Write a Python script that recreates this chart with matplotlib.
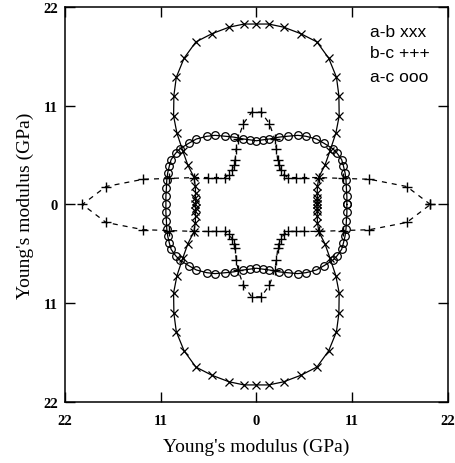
import numpy as np
import matplotlib
matplotlib.use("Agg")
import matplotlib.pyplot as plt

# Young's modulus (GPa) vs direction, first quadrant only (curves are symmetric)
ab_ang = [0, 3, 6, 10, 16, 23, 29, 35, 41, 46, 52, 57, 63, 69, 75, 81, 86, 90]
ab_E = [7.0, 7.0, 7.05, 7.1, 7.3, 7.8, 9.0, 10.3, 12.1, 13.7, 15.4, 16.9,
        18.3, 19.4, 19.7, 20.0, 20.15, 20.1]

bc_ang = [0, 6.6, 12.2, 16.2, 22.6, 28.6, 33.1, 39.8, 45.9, 53.6, 59.4,
          63.4, 69.6, 74.0, 80.5, 87.0]
bc_E = [20.0, 17.4, 13.3, 10.4, 7.8, 6.27, 5.49, 4.69, 4.6, 4.72, 5.11,
        5.48, 6.61, 7.6, 9.12, 10.3]

ac_ang = [0, 4.9, 9.9, 14.7, 18.9, 23.3, 27.0, 31.5, 35.2, 41.1, 46.6,
          53.1, 58.3, 64.7, 70.9, 78.4, 84.4, 90]
ac_E = [10.4, 10.44, 10.5, 10.65, 10.78, 10.89, 11.0, 10.9, 10.76, 10.35,
        10.04, 9.5, 9.05, 8.41, 7.94, 7.45, 7.23, 7.1]

labels = ["a-b xxx", "b-c +++", "a-c ooo"]
ticks = [-22, -11, 0, 11, 22]
tick_labels = ["22", "11", "0", "11", "22"]


def full_curve(ang, E):
    # mirror the first quadrant into the other three and close the loop
    ang = np.asarray(ang, dtype=float)
    E = np.asarray(E, dtype=float)
    a = np.concatenate([ang, 180 - ang[::-1], 180 + ang, 360 - ang[::-1]])
    e = np.concatenate([E, E[::-1], E, E[::-1]])
    keep = np.r_[True, np.abs(np.diff(a)) > 1e-9]
    a, e = a[keep], e[keep]
    if abs(a[-1] - 360 - a[0]) < 1e-9:
        a, e = a[:-1], e[:-1]
    t = np.radians(a)
    x, y = e * np.cos(t), e * np.sin(t)
    return np.r_[x, x[0]], np.r_[y, y[0]]


fig = plt.figure(figsize=(4.56, 4.64), dpi=100)
ax = fig.add_axes([0.1425, 0.1315, 0.8395, 0.8513])

x, y = full_curve(ab_ang, ab_E)
ax.plot(x, y, "-", color="black", lw=0.9, marker="x", ms=6, mew=0.9)
x, y = full_curve(bc_ang, bc_E)
ax.plot(x, y, "--", color="black", lw=0.9, dashes=(4, 4), marker="+", ms=7, mew=1.0)
x, y = full_curve(ac_ang, ac_E)
ax.plot(x, y, "-", color="black", lw=0.9, marker="o", ms=5.5, mew=0.9, mfc="none")

ax.set_xlim(-22, 22)
ax.set_ylim(-22, 22)
ax.set_xticks(ticks)
ax.set_yticks(ticks)
ax.set_xticklabels(tick_labels, family="Liberation Serif", fontsize=10.5, weight="bold")
ax.set_yticklabels(tick_labels, family="Liberation Serif", fontsize=10.5, weight="bold")
ax.tick_params(direction="in", length=7, width=1, top=True, right=True)
ax.tick_params(axis="x", pad=9)
ax.tick_params(axis="y", pad=5)
for s in ax.spines.values():
    s.set_linewidth(1.1)

ax.set_xlabel("Young's modulus (GPa)", family="Liberation Serif", fontsize=14, labelpad=7)
ax.set_ylabel("Young's modulus (GPa)", family="Liberation Serif", fontsize=14, labelpad=7)

for i, lab in enumerate(labels):
    ax.text(0.796, [0.938, 0.886, 0.823][i], lab, transform=ax.transAxes,
            family="Liberation Sans", fontsize=12.5, va="center", ha="left")

fig.savefig("out.png", dpi=100)
